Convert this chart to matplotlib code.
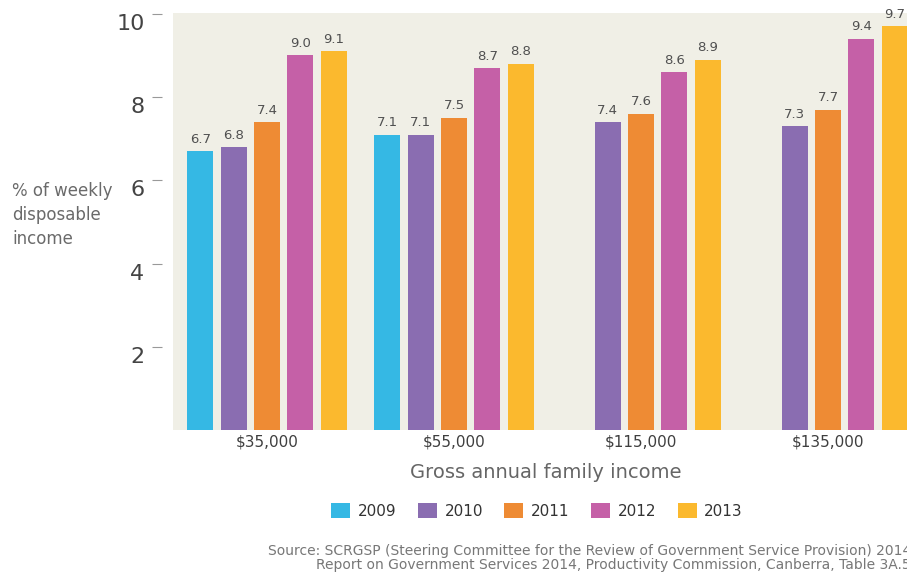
import numpy as np
import matplotlib
matplotlib.use("Agg")
import matplotlib.pyplot as plt
from matplotlib.patches import Patch
from matplotlib.transforms import ScaledTranslation

# ---- data ----
groups = ["$35,000", "$55,000", "$115,000", "$135,000"]
years = ["2009", "2010", "2011", "2012", "2013"]
y2009 = [6.7, 7.1, np.nan, np.nan]
y2010 = [6.8, 7.1, 7.4, 7.3]
y2011 = [7.4, 7.5, 7.6, 7.7]
y2012 = [9.0, 8.7, 8.6, 9.4]
y2013 = [9.1, 8.8, 8.9, 9.7]
series = [y2009, y2010, y2011, y2012, y2013]
colors = ["#35b8e4", "#8a6db1", "#ee8b34", "#c560a7", "#fbb92e"]
yticks = [2, 4, 6, 8, 10]

plt.rcParams["font.family"] = ["DejaVu Sans"]
fig = plt.figure(figsize=(9.07, 5.76), dpi=100)
fig.patch.set_facecolor("white")
ax = fig.add_axes([173/907, 1-430/576, 1-173/907 + 0.01, (430-13)/576])
ax.set_facecolor("#f0efe6")

x = np.arange(len(groups))
step = 33.3/187
width = 26/187
txtc = "#505050"
for k, (vals, c) in enumerate(zip(series, colors)):
    xs = x + (k-2)*step
    for xi, v in zip(xs, vals):
        if np.isnan(v):
            continue
        ax.bar(xi, v, width=width, color=c, edgecolor="none")
        ax.text(xi, v + 0.13, f"{v:.1f}", ha="center", va="bottom",
                fontsize=9.5, color=txtc)

ax.set_xlim(-0.5027, (907+9-267)/187)
ax.set_ylim(0, 10.02)
for s in ax.spines.values():
    s.set_visible(False)
ax.spines["left"].set_position(("outward", 8))
ax.set_yticks(yticks)
ax.set_yticklabels([str(t) for t in yticks], fontsize=16, color="#444444")
ax.tick_params(axis="y", length=7.5, width=0.8, color="#999999", pad=5)
off = ScaledTranslation(0, -8/100, fig.dpi_scale_trans)
for lab in ax.get_yticklabels():
    lab.set_transform(lab.get_transform() + off)
ax.set_xticks(x)
ax.set_xticklabels(groups, fontsize=11, color="#3f3f3f")
ax.tick_params(axis="x", length=0, pad=3)

fig.text(12/907, 1-215/576, "% of weekly\ndisposable\nincome", ha="left", va="center",
         fontsize=12, color="#6a6a6a", linespacing=1.45)
fig.text(546/907, 1-472/576, "Gross annual family income", ha="center", va="center",
         fontsize=14, color="#666666")

handles = [Patch(facecolor=c, edgecolor="none") for c in colors]
leg = fig.legend(handles, years, loc="center", bbox_to_anchor=(537/907, 1-511/576),
                 ncol=5, frameon=False, fontsize=11, handlelength=1.25, handleheight=1.1,
                 handletextpad=0.5, columnspacing=1.4)
for t in leg.get_texts():
    t.set_color("#333333")

fig.text(268/907, 1-551/576,
         "Source: SCRGSP (Steering Committee for the Review of Government Service Provision) 2014,",
         ha="left", va="center", fontsize=10.0, color="#777777")
fig.text(316/907, 1-565/576,
         "Report on Government Services 2014, Productivity Commission, Canberra, Table 3A.5",
         ha="left", va="center", fontsize=10.0, color="#777777")

fig.savefig("out.png", dpi=100)
